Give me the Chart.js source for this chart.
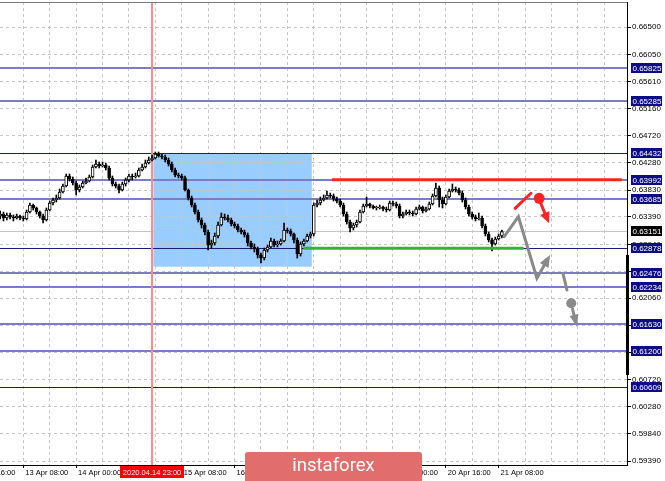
<!DOCTYPE html>
<html><head><meta charset="utf-8">
<style>html,body{margin:0;padding:0;background:#fff;overflow:hidden}#wrap{width:665px;height:481px}</style>
<script src="https://cdn.jsdelivr.net/npm/chart.js@4.4.1/dist/chart.umd.min.js"></script>
</head><body><div id="wrap"><canvas id="c" width="665" height="481"></canvas></div>
<script>
// H1 candles, bar 0 = 13 Apr 00:00
const opens = [
0.63470,0.63405,0.63437,0.63372,0.63421,0.63388,0.63372,0.63405,0.63372,0.63355,
0.63470,0.63585,0.63536,0.63470,0.63405,0.63339,0.63503,0.63618,0.63667,0.63700,
0.63798,0.63896,0.64060,0.64011,0.63945,0.63831,0.63880,0.63945,0.63978,0.64044,
0.64207,0.64257,0.64224,0.64240,0.64191,0.64027,0.63929,0.63896,0.63831,0.63929,
0.63994,0.64060,0.64044,0.64060,0.64158,0.64207,0.64273,0.64322,0.64355,0.64420,
0.64388,0.64371,0.64322,0.64257,0.64158,0.64076,0.64060,0.64027,0.63831,0.63700,
0.63585,0.63470,0.63339,0.63257,0.63142,0.62929,0.62962,0.63077,0.63257,0.63388,
0.63372,0.63339,0.63273,0.63241,0.63175,0.63142,0.63093,0.62962,0.62897,0.62864,
0.62766,0.62716,0.62847,0.62897,0.62995,0.62929,0.62946,0.62995,0.63175,0.63159,
0.63110,0.63011,0.62782,0.62946,0.62995,0.63077,0.63110,0.63585,0.63618,0.63667,
0.63700,0.63749,0.63732,0.63683,0.63650,0.63585,0.63437,0.63306,0.63208,0.63257,
0.63306,0.63470,0.63568,0.63601,0.63568,0.63536,0.63536,0.63552,0.63519,0.63503,
0.63618,0.63601,0.63568,0.63405,0.63437,0.63470,0.63454,0.63437,0.63519,0.63552,
0.63487,0.63519,0.63601,0.63732,0.63863,0.63667,0.63601,0.63716,0.63814,0.63847,
0.63831,0.63781,0.63667,0.63552,0.63437,0.63388,0.63355,0.63372,0.63241,0.63110,
0.63011,0.62946,0.63028,0.63077];
const highs = [
0.63552,0.63487,0.63470,0.63454,0.63454,0.63421,0.63437,0.63421,0.63405,0.63503,
0.63618,0.63601,0.63552,0.63487,0.63437,0.63536,0.63650,0.63700,0.63749,0.63847,
0.63929,0.64093,0.64093,0.64044,0.63978,0.63913,0.63978,0.64027,0.64076,0.64240,
0.64322,0.64289,0.64289,0.64273,0.64224,0.64060,0.63962,0.63929,0.63962,0.64027,
0.64093,0.64093,0.64109,0.64191,0.64257,0.64322,0.64371,0.64404,0.64453,0.64453,
0.64420,0.64404,0.64355,0.64289,0.64191,0.64109,0.64093,0.64060,0.63847,0.63732,
0.63618,0.63503,0.63372,0.63290,0.63175,0.63011,0.63126,0.63306,0.63454,0.63437,
0.63421,0.63372,0.63306,0.63273,0.63208,0.63175,0.63126,0.62995,0.62946,0.62897,
0.62798,0.62880,0.62929,0.63044,0.63028,0.62995,0.63028,0.63290,0.63208,0.63192,
0.63126,0.63044,0.62979,0.63028,0.63110,0.63142,0.63618,0.63667,0.63716,0.63749,
0.63814,0.63781,0.63765,0.63716,0.63683,0.63618,0.63470,0.63339,0.63290,0.63339,
0.63503,0.63601,0.63716,0.63618,0.63585,0.63568,0.63585,0.63568,0.63552,0.63650,
0.63650,0.63634,0.63601,0.63470,0.63503,0.63503,0.63487,0.63552,0.63585,0.63568,
0.63552,0.63634,0.63765,0.63945,0.63896,0.63716,0.63749,0.63847,0.63929,0.63880,
0.63863,0.63814,0.63700,0.63585,0.63470,0.63421,0.63454,0.63405,0.63273,0.63142,
0.63044,0.63060,0.63110,0.63175];
const lows = [
0.63306,0.63355,0.63323,0.63339,0.63355,0.63323,0.63355,0.63339,0.63323,0.63339,
0.63454,0.63503,0.63437,0.63372,0.63290,0.63323,0.63487,0.63585,0.63634,0.63683,
0.63781,0.63880,0.63978,0.63913,0.63749,0.63798,0.63863,0.63929,0.63962,0.64027,
0.64191,0.64191,0.64207,0.64158,0.63994,0.63896,0.63863,0.63781,0.63814,0.63896,
0.63962,0.63994,0.64027,0.64044,0.64142,0.64191,0.64257,0.64306,0.64339,0.64371,
0.64339,0.64289,0.64224,0.64126,0.64044,0.64027,0.63994,0.63814,0.63667,0.63552,
0.63437,0.63306,0.63208,0.63093,0.62847,0.62880,0.62929,0.63044,0.63241,0.63339,
0.63306,0.63241,0.63208,0.63142,0.63110,0.63060,0.62913,0.62864,0.62815,0.62716,
0.62634,0.62684,0.62815,0.62880,0.62897,0.62897,0.62929,0.62979,0.63126,0.63077,
0.62962,0.62716,0.62749,0.62913,0.62979,0.63044,0.63077,0.63552,0.63585,0.63650,
0.63683,0.63700,0.63650,0.63618,0.63552,0.63405,0.63273,0.63142,0.63175,0.63224,
0.63290,0.63454,0.63552,0.63536,0.63519,0.63503,0.63519,0.63487,0.63470,0.63487,
0.63568,0.63536,0.63372,0.63372,0.63421,0.63421,0.63405,0.63421,0.63503,0.63454,
0.63470,0.63503,0.63585,0.63716,0.63552,0.63536,0.63585,0.63700,0.63798,0.63798,
0.63749,0.63634,0.63519,0.63405,0.63355,0.63323,0.63339,0.63208,0.63077,0.62979,
0.62831,0.62929,0.63011,0.63044];
const closes = [
0.63405,0.63437,0.63372,0.63421,0.63388,0.63372,0.63405,0.63372,0.63355,0.63470,
0.63585,0.63536,0.63470,0.63405,0.63339,0.63503,0.63618,0.63667,0.63700,0.63798,
0.63896,0.64060,0.64011,0.63945,0.63831,0.63880,0.63945,0.63978,0.64044,0.64207,
0.64257,0.64224,0.64240,0.64191,0.64027,0.63929,0.63896,0.63831,0.63929,0.63994,
0.64060,0.64044,0.64060,0.64158,0.64207,0.64273,0.64322,0.64355,0.64420,0.64388,
0.64371,0.64322,0.64257,0.64158,0.64076,0.64060,0.64027,0.63831,0.63700,0.63585,
0.63470,0.63339,0.63257,0.63142,0.62929,0.62962,0.63077,0.63257,0.63388,0.63372,
0.63339,0.63273,0.63241,0.63175,0.63142,0.63093,0.62962,0.62897,0.62864,0.62766,
0.62716,0.62847,0.62897,0.62995,0.62929,0.62946,0.62995,0.63175,0.63159,0.63110,
0.63011,0.62782,0.62946,0.62995,0.63077,0.63110,0.63585,0.63618,0.63667,0.63700,
0.63749,0.63732,0.63683,0.63650,0.63585,0.63437,0.63306,0.63208,0.63257,0.63306,
0.63470,0.63568,0.63601,0.63568,0.63536,0.63536,0.63552,0.63519,0.63503,0.63618,
0.63601,0.63568,0.63405,0.63437,0.63470,0.63454,0.63437,0.63519,0.63552,0.63487,
0.63519,0.63601,0.63732,0.63863,0.63667,0.63601,0.63716,0.63814,0.63847,0.63831,
0.63781,0.63667,0.63552,0.63437,0.63388,0.63355,0.63372,0.63241,0.63110,0.63011,
0.62946,0.63028,0.63077,0.63151];

const viewBars = [0.94, 190.9];
const priceRange = [0.59325, 0.66911];
const timeTickBars = [-8, 8, 24, 40, 56, 72, 88, 104, 120, 136, 152];
const timeLabels = ['10 Apr 16:00','13 Apr 08:00','14 Apr 00:00','14 Apr 16:00','15 Apr 08:00','16 Apr 00:00','16 Apr 16:00','17 Apr 08:00','20 Apr 00:00','20 Apr 16:00','21 Apr 08:00'];
const gridStepBars = 8;
const priceTicks = [0.66500,0.66050,0.65610,0.65160,0.64720,0.64280,0.63830,0.63390,0.62940,0.62500,0.62060,0.61610,0.61170,0.60720,0.60280,0.59840,0.59390];
const levelsLight = [0.65825,0.65285,0.63992,0.63685,0.62476,0.62234,0.61630,0.61200];
const levelsDark = [0.64432,0.62878,0.60609];
const currentPrice = 0.63151;
const markerBar = 47, markerLabel = '2020.04.14 23:00';
const boxBars = [47.4, 95.4], boxPrices = [0.64432, 0.62574];
const resistBars = [101.5, 189.3], resistPrice = 0.64000;
const supportBars = [92.9, 159.6], supportPrice = 0.62878;
const grayPathBars = [153.7, 158.0, 163.6, 167.6], grayPathPrices = [0.63066, 0.63393, 0.62384, 0.62766];
const grayTailBars = [171.5, 172.7], grayTailPrices = [0.62466, 0.62192];
const grayDot = [174.0, 0.61975];
const grayArrowBars = [174.4, 175.7], grayArrowPrices = [0.61880, 0.61591];
const redSegBars = [157.0, 161.8], redSegPrices = [0.63531, 0.63777];
const redDot = [164.3, 0.63695];
const redArrowBars = [164.7, 167.3], redArrowPrices = [0.63620, 0.63285];
const scrollPrices = [0.62766, 0.60800];

Chart.defaults.font.family = "'Liberation Sans', Arial, sans-serif";

const gridBars = [];
for (let b = timeTickBars[0]; b <= viewBars[1]; b += gridStepBars) gridBars.push(b);
const labelFor = v => { const k = timeTickBars.indexOf(v); return k >= 0 ? timeLabels[k] : ''; };

function arrowHead(ctx, fx, fy, tx, ty, len, w) {
  const a = Math.atan2(ty - fy, tx - fx), c = Math.cos(a), s = Math.sin(a);
  ctx.beginPath();
  ctx.moveTo(tx, ty);
  ctx.lineTo(tx - len * c + w / 2 * s, ty - len * s - w / 2 * c);
  ctx.lineTo(tx - len * c - w / 2 * s, ty - len * s + w / 2 * c);
  ctx.closePath(); ctx.fill();
}
function poly(ctx, xs, ys, bars, prices) {
  ctx.beginPath();
  bars.forEach((b, i) => { const X = xs.getPixelForValue(b), Y = ys.getPixelForValue(prices[i]); i ? ctx.lineTo(X, Y) : ctx.moveTo(X, Y); });
  ctx.stroke();
}

const overlay = {
  id: 'overlay',
  beforeDraw(chart) {
    const {ctx, scales: {x, y}} = chart;
    const x0 = x.getPixelForValue(boxBars[0]), x1 = x.getPixelForValue(boxBars[1]);
    const y0 = y.getPixelForValue(boxPrices[0]), y1 = y.getPixelForValue(boxPrices[1]);
    ctx.save(); ctx.fillStyle = '#99ccff'; ctx.fillRect(x0, y0, x1 - x0, y1 - y0); ctx.restore();
  },
  beforeDatasetsDraw(chart) {
    const {ctx, chartArea: a, scales: {x, y}} = chart;
    ctx.save();
    ctx.strokeStyle = '#c4c4c4'; ctx.lineWidth = 1;
    let Y = Math.round(y.getPixelForValue(currentPrice)) + 0.5;
    ctx.beginPath(); ctx.moveTo(a.left, Y); ctx.lineTo(a.right, Y); ctx.stroke();
    ctx.strokeStyle = '#7b7bc6'; ctx.lineWidth = 2;
    levelsLight.forEach(v => { const Y = Math.round(y.getPixelForValue(v)); ctx.beginPath(); ctx.moveTo(a.left, Y); ctx.lineTo(a.right, Y); ctx.stroke(); });
    ctx.strokeStyle = '#1c1c80'; ctx.lineWidth = 1;
    levelsDark.forEach(v => { const Y = Math.round(y.getPixelForValue(v)) + 0.5; ctx.beginPath(); ctx.moveTo(a.left, Y); ctx.lineTo(a.right, Y); ctx.stroke(); });
    const X = x.getPixelForValue(markerBar);
    ctx.strokeStyle = '#ff8a8a'; ctx.lineWidth = 2;
    ctx.beginPath(); ctx.moveTo(X, a.top); ctx.lineTo(X, a.bottom); ctx.stroke();
    ctx.restore();
  },
  afterDatasetsDraw(chart) {
    const {ctx, scales: {x, y}} = chart;
    ctx.save();
    ctx.lineCap = 'butt'; ctx.lineWidth = 3;
    ctx.strokeStyle = '#ff2222';
    poly(ctx, x, y, resistBars, [resistPrice, resistPrice]);
    ctx.strokeStyle = '#2eb82e';
    poly(ctx, x, y, supportBars, [supportPrice, supportPrice]);
    ctx.lineCap = 'round'; ctx.lineJoin = 'miter';
    // gray projection
    ctx.strokeStyle = '#8a8a8a'; ctx.fillStyle = '#8a8a8a';
    poly(ctx, x, y, grayPathBars.slice(0, 3).concat([grayPathBars[2] + (grayPathBars[3] - grayPathBars[2]) * 0.6]),
      grayPathPrices.slice(0, 3).concat([grayPathPrices[2] + (grayPathPrices[3] - grayPathPrices[2]) * 0.6]));
    arrowHead(ctx, x.getPixelForValue(grayPathBars[2]), y.getPixelForValue(grayPathPrices[2]),
      x.getPixelForValue(grayPathBars[3]), y.getPixelForValue(grayPathPrices[3]), 12, 10);
    poly(ctx, x, y, grayTailBars, grayTailPrices);
    ctx.beginPath(); ctx.arc(x.getPixelForValue(grayDot[0]), y.getPixelForValue(grayDot[1]), 5, 0, Math.PI * 2); ctx.fill();
    const gx0 = x.getPixelForValue(grayArrowBars[0]), gy0 = y.getPixelForValue(grayArrowPrices[0]);
    const gx1 = x.getPixelForValue(grayArrowBars[1]), gy1 = y.getPixelForValue(grayArrowPrices[1]);
    ctx.beginPath(); ctx.moveTo(gx0, gy0); ctx.lineTo(gx0 + (gx1 - gx0) * 0.55, gy0 + (gy1 - gy0) * 0.55); ctx.stroke();
    arrowHead(ctx, gx0, gy0, gx1, gy1, 12, 9);
    // red projection
    ctx.strokeStyle = '#ff2222'; ctx.fillStyle = '#ff2222';
    poly(ctx, x, y, redSegBars, redSegPrices);
    ctx.beginPath(); ctx.arc(x.getPixelForValue(redDot[0]), y.getPixelForValue(redDot[1]), 5.5, 0, Math.PI * 2); ctx.fill();
    const rx0 = x.getPixelForValue(redArrowBars[0]), ry0 = y.getPixelForValue(redArrowPrices[0]);
    const rx1 = x.getPixelForValue(redArrowBars[1]), ry1 = y.getPixelForValue(redArrowPrices[1]);
    ctx.beginPath(); ctx.moveTo(rx0, ry0); ctx.lineTo(rx0 + (rx1 - rx0) * 0.6, ry0 + (ry1 - ry0) * 0.6); ctx.stroke();
    arrowHead(ctx, rx0, ry0, rx1, ry1, 11, 10);
    ctx.restore();
  },
  afterDraw(chart) {
    const {ctx, chartArea: a, scales: {x, y}} = chart;
    ctx.save();
    // top frame
    ctx.strokeStyle = '#7a7a7a'; ctx.lineWidth = 1;
    ctx.beginPath(); ctx.moveTo(a.left, a.top + 0.5); ctx.lineTo(a.right, a.top + 0.5); ctx.stroke();
    // black bar at the right edge
    ctx.strokeStyle = '#000'; ctx.lineWidth = 3;
    ctx.beginPath(); ctx.moveTo(a.right + 0.5, y.getPixelForValue(scrollPrices[0])); ctx.lineTo(a.right + 0.5, y.getPixelForValue(scrollPrices[1])); ctx.stroke();
    // level labels
    ctx.font = "8px 'Liberation Sans', Arial, sans-serif";
    ctx.textBaseline = 'middle'; ctx.textAlign = 'left';
    const box = (v, bg) => {
      const Y = Math.round(y.getPixelForValue(v));
      ctx.fillStyle = bg; ctx.fillRect(a.right + 4, Y - 5, 31, 10);
      ctx.fillStyle = '#fff'; ctx.fillText(v.toFixed(5), a.right + 5.5, Y + 0.5);
    };
    levelsLight.concat(levelsDark).forEach(v => box(v, '#0c0c84'));
    box(currentPrice, '#000');
    // marker date label
    ctx.font = "7.5px 'Liberation Sans', Arial, sans-serif";
    const mx = x.getPixelForValue(markerBar);
    const tw = ctx.measureText(markerLabel).width;
    ctx.fillStyle = '#ff0000'; ctx.fillRect(Math.round(mx - tw / 2 - 3), a.bottom + 1, Math.round(tw + 6), 12);
    ctx.fillStyle = '#fff'; ctx.textAlign = 'center'; ctx.fillText(markerLabel, mx, a.bottom + 7.5);
    // watermark banner
    ctx.fillStyle = '#e26d6d';
    ctx.beginPath();
    if (ctx.roundRect) ctx.roundRect(245, 452, 177, 32, 3); else ctx.rect(245, 452, 177, 32);
    ctx.fill();
    ctx.fillStyle = '#fff'; ctx.font = "18.5px Roboto, 'Open Sans', sans-serif"; ctx.textAlign = 'center';
    ctx.fillText('instaforex', 333.5, 466);
    ctx.restore();
  }
};

const bodyData = closes.map((c, i) => ({x: i, y: [opens[i], c]}));
const wickData = closes.map((c, i) => ({x: i, y: [lows[i], highs[i]]}));

new Chart(document.getElementById('c'), {
  type: 'bar',
  data: { datasets: [
    { label: 'body', data: bodyData, order: 0, grouped: false, barThickness: 3, minBarLength: 1,
      backgroundColor: c => (closes[c.dataIndex] >= opens[c.dataIndex] ? '#ffffff' : '#000000'),
      borderColor: '#000', borderWidth: 1, borderSkipped: false },
    { label: 'wick', data: wickData, order: 1, grouped: false, barThickness: 1, backgroundColor: '#000', borderWidth: 0 }
  ]},
  options: {
    responsive: false, animation: false, devicePixelRatio: 1,
    layout: { padding: { top: 2, left: 0, right: 0, bottom: 0 } },
    plugins: { legend: { display: false }, tooltip: { enabled: false } },
    events: [],
    scales: {
      x: {
        type: 'linear', min: viewBars[0], max: viewBars[1], offset: false, bounds: 'data',
        grid: { color: '#c6c6c6', lineWidth: 1, offset: false, drawTicks: true, tickLength: 3, tickBorderDash: [],
          tickColor: c => (c.tick && timeTickBars.includes(c.tick.value) ? '#000' : 'rgba(0,0,0,0)') },
        border: { display: true, color: '#000', dash: [3, 3] },
        ticks: { autoSkip: false, maxRotation: 0, minRotation: 0, align: 'start', padding: 0, labelOffset: 2,
          color: '#000', font: { size: 7.5 }, callback: v => labelFor(v) },
        afterBuildTicks: s => { s.ticks = gridBars.map(v => ({value: v})); },
        afterFit: s => { s.height = 16; s.paddingLeft = 0; s.paddingRight = 0; }
      },
      y: {
        type: 'linear', position: 'right', min: priceRange[0], max: priceRange[1], bounds: 'data',
        grid: { color: '#c6c6c6', lineWidth: 1, tickLength: 4, tickColor: '#000', tickBorderDash: [] },
        border: { display: true, color: '#000', dash: [3, 3] },
        ticks: { autoSkip: false, padding: 1, color: '#000', font: { size: 8 }, callback: v => Number(v).toFixed(5) },
        afterBuildTicks: s => { s.ticks = priceTicks.map(v => ({value: v})); },
        afterFit: s => { s.width = 38; s.paddingTop = 0; s.paddingBottom = 0; }
      }
    }
  },
  plugins: [overlay]
});
</script></body></html>
